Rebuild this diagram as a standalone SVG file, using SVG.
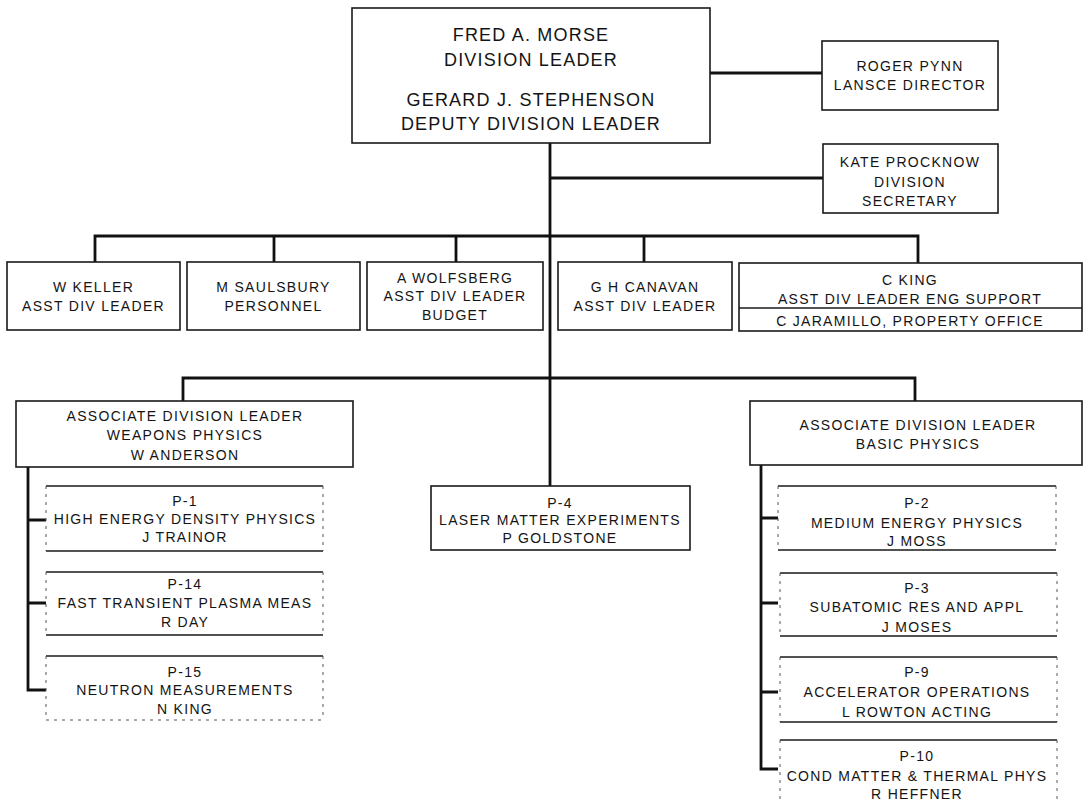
<svg xmlns="http://www.w3.org/2000/svg" width="1087" height="803" viewBox="0 0 1087 803">
<style>
text{font-family:"Liberation Sans",Arial,sans-serif;fill:#141414;text-anchor:middle}
.t18{font-size:18px;letter-spacing:1.2px}
.t14{font-size:14px;letter-spacing:1.3px}
.box{fill:#fff;stroke:#1a1a1a;stroke-width:1.6}
.edge{stroke:#1a1a1a;stroke-width:1.6;fill:none}
.side{stroke:#555;stroke-width:1;stroke-dasharray:3 5;fill:none}
.conn{stroke:#111;stroke-width:2.8;fill:none}
</style>
<rect width="1087" height="803" fill="#fff"/>
<g id="connectors">
<path class="conn" d="M710 73H822"/>
<path class="conn" d="M550 143V486"/>
<path class="conn" d="M550 178H823"/>
<path class="conn" d="M95 262V236H918V263M274 236V262M456 236V262M644 236V262"/>
<path class="conn" d="M183 401V378H915V401"/>
<path class="conn" d="M28 467V690H46M28 520H46M28 603H46"/>
<path class="conn" d="M761 465V769H778M761 518H778M761 603H778M761 692H778"/>
</g>
<g id="director">
<rect class="box" x="352" y="8" width="358" height="135"/>
<text class="t18" x="531" y="41">FRED A. MORSE</text>
<text class="t18" x="531" y="66">DIVISION LEADER</text>
<text class="t18" x="531" y="106">GERARD J. STEPHENSON</text>
<text class="t18" x="531" y="130">DEPUTY DIVISION LEADER</text>
</g>
<g id="pynn">
<rect class="box" x="822" y="41" width="176" height="69"/>
<text class="t14" x="910" y="71">ROGER PYNN</text>
<text class="t14" x="910" y="90">LANSCE DIRECTOR</text>
</g>
<g id="procknow">
<rect class="box" x="823" y="144" width="175" height="69"/>
<text class="t14" x="910" y="167">KATE PROCKNOW</text>
<text class="t14" x="910" y="187">DIVISION</text>
<text class="t14" x="910" y="206">SECRETARY</text>
</g>
<g id="keller">
<rect class="box" x="7" y="262" width="173" height="68"/>
<text class="t14" x="93.5" y="292">W  KELLER</text>
<text class="t14" x="93.5" y="311">ASST  DIV  LEADER</text>
</g>
<g id="saulsbury">
<rect class="box" x="187" y="262" width="173" height="68"/>
<text class="t14" x="273.5" y="292">M  SAULSBURY</text>
<text class="t14" x="273.5" y="311">PERSONNEL</text>
</g>
<g id="wolfsberg">
<rect class="box" x="367" y="262" width="176" height="68"/>
<text class="t14" x="455" y="283">A  WOLFSBERG</text>
<text class="t14" x="455" y="301">ASST  DIV  LEADER</text>
<text class="t14" x="455" y="320">BUDGET</text>
</g>
<g id="canavan">
<rect class="box" x="558" y="262" width="174" height="68"/>
<text class="t14" x="645" y="292">G  H  CANAVAN</text>
<text class="t14" x="645" y="311">ASST  DIV  LEADER</text>
</g>
<g id="king">
<rect class="box" x="739" y="263" width="343" height="68"/>
<path class="edge" d="M739 308H1082"/>
<text class="t14" x="910" y="285">C  KING</text>
<text class="t14" x="910" y="304">ASST  DIV  LEADER ENG  SUPPORT</text>
<text class="t14" x="910" y="326">C  JARAMILLO, PROPERTY OFFICE</text>
</g>
<g id="weapons">
<rect class="box" x="16" y="401" width="337" height="66"/>
<text class="t14" x="185" y="421">ASSOCIATE DIVISION LEADER</text>
<text class="t14" x="185" y="440">WEAPONS PHYSICS</text>
<text class="t14" x="185" y="460">W  ANDERSON</text>
</g>
<g id="basic">
<rect class="box" x="750" y="401" width="332" height="64"/>
<text class="t14" x="918" y="430">ASSOCIATE DIVISION LEADER</text>
<text class="t14" x="918" y="449">BASIC PHYSICS</text>
</g>
<g id="p4">
<rect class="box" x="431" y="486" width="259" height="64"/>
<text class="t14" x="560" y="508">P-4</text>
<text class="t14" x="560" y="525">LASER MATTER EXPERIMENTS</text>
<text class="t14" x="560" y="543">P  GOLDSTONE</text>
</g>
<g id="p1">
<path class="edge" d="M46 486H323M46 551H323"/>
<path class="side" d="M46 486V551M323 486V551"/>
<text class="t14" x="185" y="506">P-1</text>
<text class="t14" x="185" y="524">HIGH ENERGY DENSITY PHYSICS</text>
<text class="t14" x="185" y="542">J  TRAINOR</text>
</g>
<g id="p14">
<path class="edge" d="M46 572H323M46 635H323"/>
<path class="side" d="M46 572V635M323 572V635"/>
<text class="t14" x="185" y="589">P-14</text>
<text class="t14" x="185" y="608">FAST TRANSIENT PLASMA MEAS</text>
<text class="t14" x="185" y="627">R  DAY</text>
</g>
<g id="p15">
<path class="edge" d="M46 656H323"/>
<path class="side" d="M46 720H323M46 656V720M323 656V720"/>
<text class="t14" x="185" y="677">P-15</text>
<text class="t14" x="185" y="695">NEUTRON MEASUREMENTS</text>
<text class="t14" x="185" y="714">N  KING</text>
</g>
<g id="p2">
<path class="edge" d="M778 486H1056M778 550H1056"/>
<path class="side" d="M778 486V550M1056 486V550"/>
<text class="t14" x="917" y="508">P-2</text>
<text class="t14" x="917" y="528">MEDIUM ENERGY PHYSICS</text>
<text class="t14" x="917" y="546">J  MOSS</text>
</g>
<g id="p3">
<path class="edge" d="M780 573H1057M780 636H1057"/>
<path class="side" d="M780 573V636M1057 573V636"/>
<text class="t14" x="917" y="593">P-3</text>
<text class="t14" x="917" y="612">SUBATOMIC RES  AND APPL</text>
<text class="t14" x="917" y="632">J  MOSES</text>
</g>
<g id="p9">
<path class="edge" d="M780 657H1057M780 722H1057"/>
<path class="side" d="M780 657V722M1057 657V722"/>
<text class="t14" x="917" y="677">P-9</text>
<text class="t14" x="917" y="697">ACCELERATOR OPERATIONS</text>
<text class="t14" x="917" y="717">L  ROWTON  ACTING</text>
</g>
<g id="p10">
<path class="edge" d="M780 740H1057"/>
<path class="side" d="M780 740V803M1057 740V803"/>
<text class="t14" x="917" y="761">P-10</text>
<text class="t14" x="917" y="781">COND  MATTER &amp; THERMAL PHYS</text>
<text class="t14" x="917" y="799">R  HEFFNER</text>
</g>
</svg>
